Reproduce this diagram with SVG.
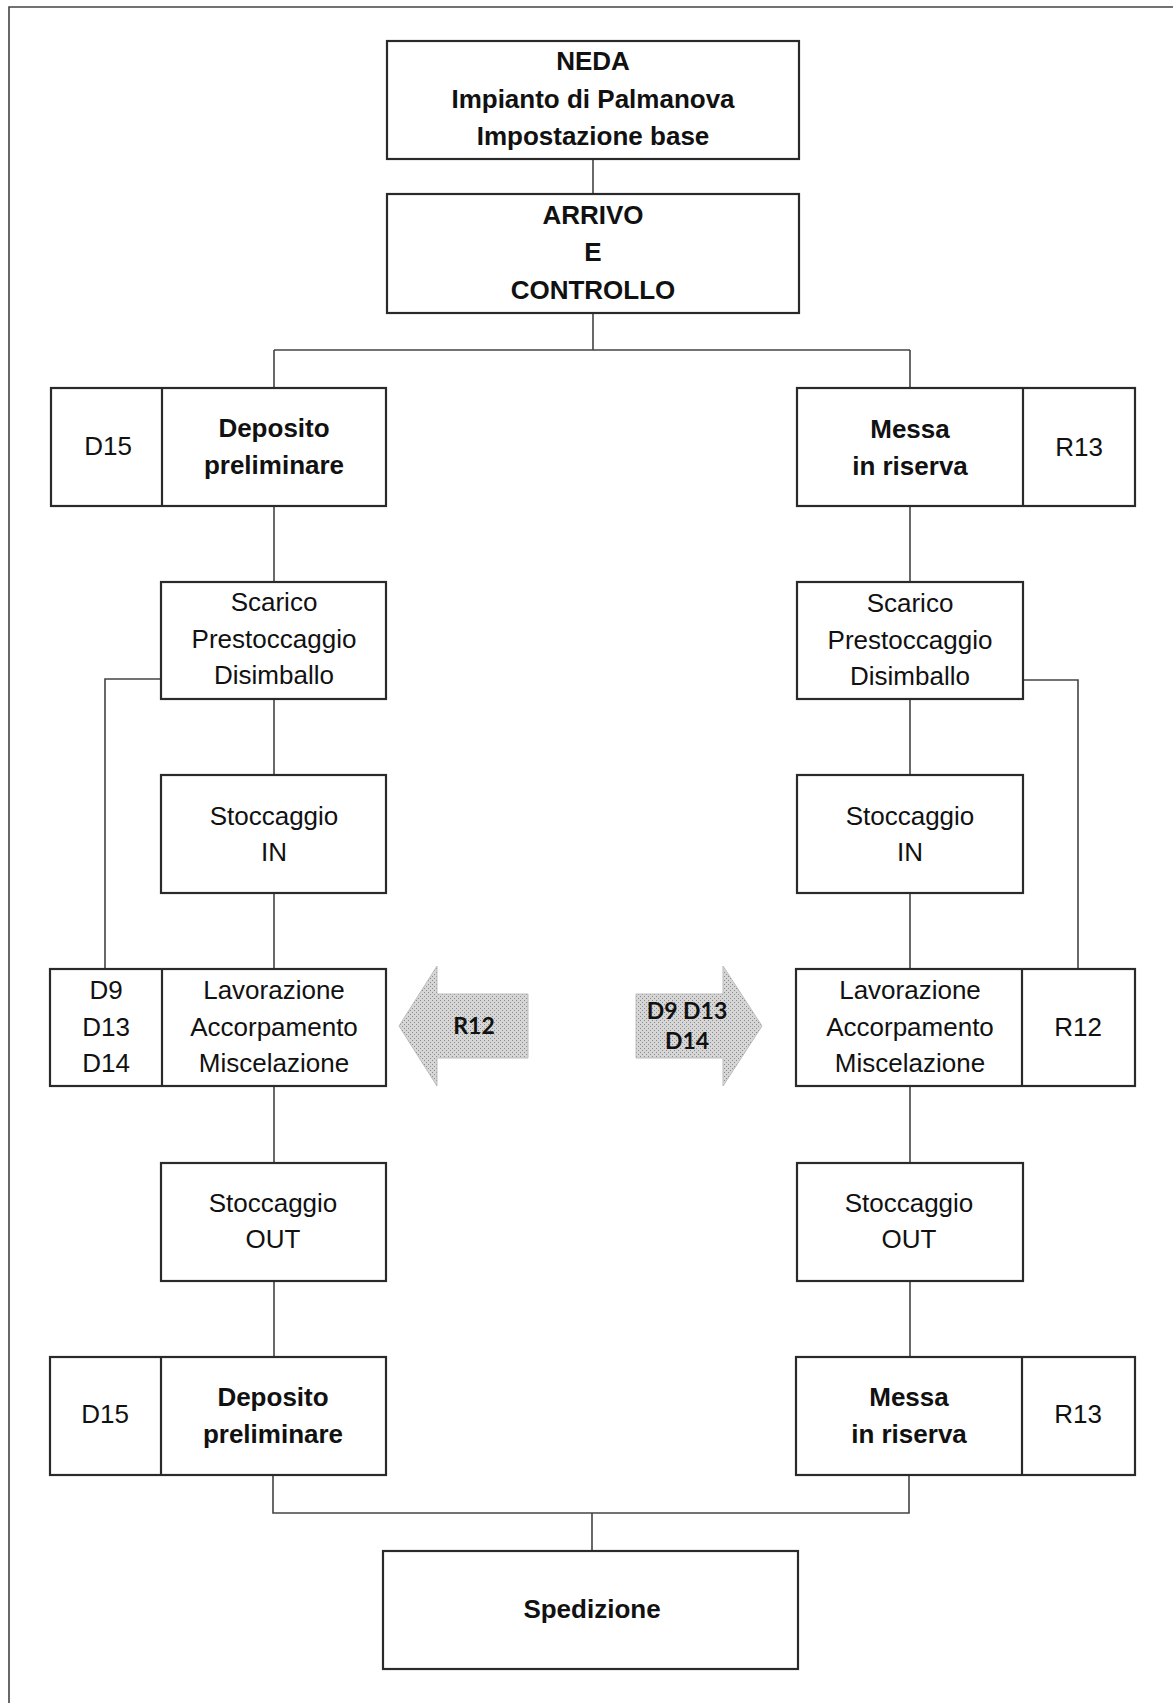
<svg xmlns="http://www.w3.org/2000/svg" width="1173" height="1703" viewBox="0 0 1173 1703">
<style>
.box{fill:#fff;stroke:#2a2a2a;stroke-width:2.2}
.ln{fill:none;stroke:#444;stroke-width:1.6}
.t{font-family:"Liberation Sans",Arial,sans-serif;font-size:26px;fill:#111;text-anchor:middle}
.b{font-weight:bold}
.n{font-family:"Liberation Sans Narrow","Liberation Sans",Arial,sans-serif;font-weight:bold;font-size:26px;fill:#111;text-anchor:middle}
.ar{fill:#c6c6c6;stroke:#b0b0b0;stroke-width:1;stroke-dasharray:2 2}
.at{font-family:Lato,"Open Sans",sans-serif;font-weight:bold;font-size:23px;fill:#111;text-anchor:middle}
</style>
<defs>
<pattern id="dots" width="4" height="4" patternUnits="userSpaceOnUse">
<rect width="4" height="4" fill="#d6d6d6"/>
<rect x="0" y="0" width="1" height="1" fill="#8a8a8a"/>
<rect x="2" y="2" width="1" height="1" fill="#8a8a8a"/>
</pattern>
</defs>
<rect width="1173" height="1703" fill="#fff"/>
<path class="ln" d="M9 1703 V7 H1173"/>

<g id="connectors">
<path class="ln" d="M593 159 V194"/>
<path class="ln" d="M593 313 V350 M274 350 H910 M274 350 V388 M910 350 V388"/>
<path class="ln" d="M274 506 V582 M910 506 V582"/>
<path class="ln" d="M274 699 V775 M910 699 V775"/>
<path class="ln" d="M274 893 V969 M910 893 V969"/>
<path class="ln" d="M274 1086 V1163 M910 1086 V1163"/>
<path class="ln" d="M274 1281 V1357 M910 1281 V1357"/>
<path class="ln" d="M273 1475 V1513 H909 V1475 M592 1513 V1551"/>
<path class="ln" d="M161 679 H105 V969"/>
<path class="ln" d="M1023 680 H1078 V969"/>
</g>

<g id="neda">
<rect class="box" x="387" y="41" width="412" height="118"/>
<text class="n" x="593" y="70">NEDA</text>
<text class="n" x="593" y="108">Impianto di Palmanova</text>
<text class="n" x="593" y="145">Impostazione base</text>
</g>
<g id="arrivo">
<rect class="box" x="387" y="194" width="412" height="119"/>
<text class="n" x="593" y="224">ARRIVO</text>
<text class="n" x="593" y="261">E</text>
<text class="n" x="593" y="299">CONTROLLO</text>
</g>

<g id="deposito-top">
<rect class="box" x="51" y="388" width="335" height="118"/>
<line class="box" x1="162" y1="388" x2="162" y2="506"/>
<text class="t" x="108" y="455">D15</text>
<text class="t b" x="274" y="437">Deposito</text>
<text class="t b" x="274" y="474">preliminare</text>
</g>
<g id="messa-top">
<rect class="box" x="797" y="388" width="338" height="118"/>
<line class="box" x1="1023" y1="388" x2="1023" y2="506"/>
<text class="t b" x="910" y="438">Messa</text>
<text class="t b" x="910" y="475">in riserva</text>
<text class="t" x="1079" y="456">R13</text>
</g>

<g id="scarico-left">
<rect class="box" x="161" y="582" width="225" height="117"/>
<text class="t" x="274" y="611">Scarico</text>
<text class="t" x="274" y="648">Prestoccaggio</text>
<text class="t" x="274" y="684">Disimballo</text>
</g>
<g id="scarico-right">
<rect class="box" x="797" y="582" width="226" height="117"/>
<text class="t" x="910" y="612">Scarico</text>
<text class="t" x="910" y="649">Prestoccaggio</text>
<text class="t" x="910" y="685">Disimballo</text>
</g>

<g id="stoccaggio-in-left">
<rect class="box" x="161" y="775" width="225" height="118"/>
<text class="t" x="274" y="825">Stoccaggio</text>
<text class="t" x="274" y="861">IN</text>
</g>
<g id="stoccaggio-in-right">
<rect class="box" x="797" y="775" width="226" height="118"/>
<text class="t" x="910" y="825">Stoccaggio</text>
<text class="t" x="910" y="861">IN</text>
</g>

<g id="lavorazione-left">
<rect class="box" x="50" y="969" width="336" height="117"/>
<line class="box" x1="162" y1="969" x2="162" y2="1086"/>
<text class="t" x="106" y="999">D9</text>
<text class="t" x="106" y="1036">D13</text>
<text class="t" x="106" y="1072">D14</text>
<text class="t" x="274" y="999">Lavorazione</text>
<text class="t" x="274" y="1036">Accorpamento</text>
<text class="t" x="274" y="1072">Miscelazione</text>
</g>
<g id="lavorazione-right">
<rect class="box" x="796" y="969" width="339" height="117"/>
<line class="box" x1="1022" y1="969" x2="1022" y2="1086"/>
<text class="t" x="910" y="999">Lavorazione</text>
<text class="t" x="910" y="1036">Accorpamento</text>
<text class="t" x="910" y="1072">Miscelazione</text>
<text class="t" x="1078" y="1036">R12</text>
</g>

<g id="arrow-r12">
<path d="M399 1026 L437 966 V994 H528 V1058 H437 V1086 Z" fill="url(#dots)" stroke="#bdbdbd" stroke-width="1"/>
<text class="at" x="474" y="1034">R12</text>
</g>
<g id="arrow-d9">
<path d="M762 1026 L723 966 V994 H636 V1058 H723 V1086 Z" fill="url(#dots)" stroke="#bdbdbd" stroke-width="1"/>
<text class="at" x="687" y="1019">D9 D13</text>
<text class="at" x="687" y="1049">D14</text>
</g>

<g id="stoccaggio-out-left">
<rect class="box" x="161" y="1163" width="225" height="118"/>
<text class="t" x="273" y="1212">Stoccaggio</text>
<text class="t" x="273" y="1248">OUT</text>
</g>
<g id="stoccaggio-out-right">
<rect class="box" x="797" y="1163" width="226" height="118"/>
<text class="t" x="909" y="1212">Stoccaggio</text>
<text class="t" x="909" y="1248">OUT</text>
</g>

<g id="deposito-bottom">
<rect class="box" x="50" y="1357" width="336" height="118"/>
<line class="box" x1="161" y1="1357" x2="161" y2="1475"/>
<text class="t" x="105" y="1423">D15</text>
<text class="t b" x="273" y="1406">Deposito</text>
<text class="t b" x="273" y="1443">preliminare</text>
</g>
<g id="messa-bottom">
<rect class="box" x="796" y="1357" width="339" height="118"/>
<line class="box" x1="1022" y1="1357" x2="1022" y2="1475"/>
<text class="t b" x="909" y="1406">Messa</text>
<text class="t b" x="909" y="1443">in riserva</text>
<text class="t" x="1078" y="1423">R13</text>
</g>

<g id="spedizione">
<rect class="box" x="383" y="1551" width="415" height="118"/>
<text class="n" x="592" y="1618">Spedizione</text>
</g>
</svg>
